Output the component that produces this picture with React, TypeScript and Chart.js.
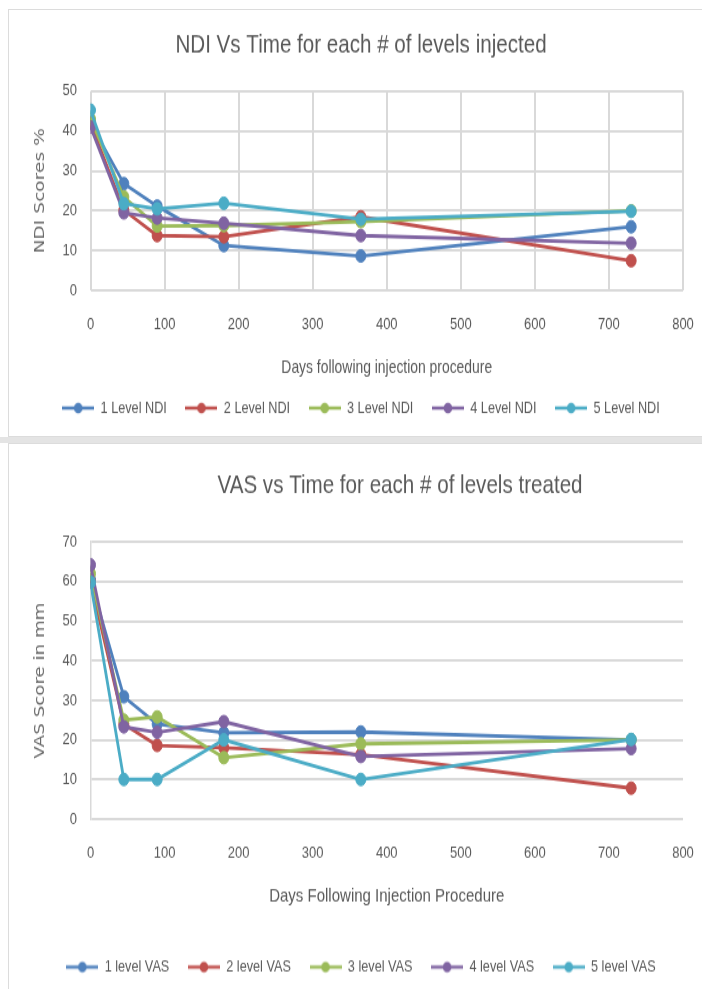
import React, { useEffect, useRef } from "react";
import { Chart, registerables } from "chart.js";

Chart.register(...registerables);

const days = [0, 45, 90, 180, 365, 730];

const ndiLabels = ["1 Level NDI", "2 Level NDI", "3 Level NDI", "4 Level NDI", "5 Level NDI"];
const ndi1 = [42, 26.8, 21.2, 11.3, 8.7, 16];
const ndi2 = [42, 20.2, 13.8, 13.5, 18.5, 7.5];
const ndi3 = [43, 23.5, 16.2, 16.3, 17.3, 20];
const ndi4 = [41, 19.5, 18.2, 16.9, 13.8, 11.9];
const ndi5 = [45.2, 21.8, 20.5, 21.9, 17.9, 19.9];

const vasLabels = ["1 level VAS", "2 level VAS", "3 level VAS", "4 level VAS", "5 level VAS"];
const vas1 = [60.5, 30.9, 24, 21.8, 22, 20];
const vas2 = [60, 24, 18.6, 18, 16.3, 7.8];
const vas3 = [62, 25, 25.8, 15.5, 19, 20];
const vas4 = [64.2, 23.3, 21.9, 24.6, 15.8, 17.8];
const vas5 = [59.8, 10, 10, 20, 10, 20.1];

const xTicks = [0, 100, 200, 300, 400, 500, 600, 700, 800];

const colors = ["#4F81BD", "#C0504D", "#9BBB59", "#8064A2", "#4BACC6"];

const SANS = "'Liberation Sans', Arial, sans-serif";
const WIDE = "'DejaVu Sans', Verdana, sans-serif";
const TXT = "#595959";

function legendImage(color: string): HTMLCanvasElement {
  const c = document.createElement("canvas");
  c.width = 32;
  c.height = 12;
  const g = c.getContext("2d")!;
  g.strokeStyle = color;
  g.lineWidth = 2.6;
  g.beginPath();
  g.moveTo(0, 6);
  g.lineTo(32, 6);
  g.stroke();
  g.fillStyle = color;
  g.beginPath();
  g.arc(16, 6, 4.3, 0, Math.PI * 2);
  g.fill();
  return c;
}

type Cfg = {
  title: string;
  xTitle: string;
  yTitle: string;
  yMax: number;
  labels: string[];
  series: number[][];
  cssHeight: number;
  height: number;
  titleCenter: number;
  plotTop: number;
  plotBottom: number;
  xLabelCenter: number;
  xTitleCenter: number;
  legendCenter: number;
  vGrid: boolean;
  titleShift: number;
  xTitleSize: number;
  yTitleSize: number;
};

const W = 722;
const PLOT_LEFT = 90.5;
const PLOT_RIGHT = 683;
const TITLE_SIZE = 20.6;
const TICK_SIZE = 13;
const LEG_SIZE = 12.7;
const LEG_PAD = 18.6;

function makeConfig(c: Cfg): any {
  const S = c.cssHeight / c.height;
  const v = (p: number) => p / S;
  const tlh = TITLE_SIZE * 1.2;
  const titlePadTop = v(c.titleCenter) - tlh / 2;
  const titlePadBottom = v(c.plotTop) - titlePadTop - tlh;
  const legendH = LEG_SIZE + LEG_PAD + 10;
  const padBottom = c.height - 10 - LEG_SIZE / 2 - v(c.legendCenter);
  const xAxisH = c.height - padBottom - legendH - v(c.plotBottom);
  const xAxisBottom = c.height - padBottom - legendH;
  const xtlh = c.xTitleSize * 1.2;
  const xTitlePadBottom = xAxisBottom - v(c.xTitleCenter) - xtlh / 2;
  const tickPadX = v(c.xLabelCenter) - v(c.plotBottom) - (TICK_SIZE * 1.2) / 2;
  const ytlh = c.yTitleSize * 1.2;
  const yTitlePadTop = 40.5 - ytlh / 2;

  const datasets = c.series.map((s, i) => ({
    label: c.labels[i],
    data: days.map((d, j) => ({ x: d, y: s[j] })),
    borderColor: colors[i],
    backgroundColor: colors[i],
    pointBackgroundColor: colors[i],
    pointBorderColor: colors[i],
    borderWidth: 2.8,
    pointRadius: 5,
    pointBorderWidth: 1,
    tension: 0,
    fill: false,
    order: c.series.length - 1 - i,
  }));

  const gridColor = "#d9d9d9";

  return {
    type: "line",
    data: { datasets },
    options: {
      animation: false,
      responsive: false,
      devicePixelRatio: 1,
      layout: { padding: { left: 0, right: 0, top: 0, bottom: padBottom } },
      plugins: {
        tooltip: { enabled: false },
        title: {
          display: true,
          text: c.title,
          color: TXT,
          font: { family: SANS, size: TITLE_SIZE, weight: "normal" },
          padding: { top: titlePadTop, bottom: titlePadBottom },
        },
        legend: {
          display: true,
          position: "bottom",
          labels: {
            usePointStyle: true,
            pointStyleWidth: 32,
            padding: LEG_PAD,
            color: TXT,
            font: { family: SANS, size: LEG_SIZE },
            generateLabels: (chart: any) =>
              chart.data.datasets.map((ds: any, i: number) => ({
                text: ds.label,
                pointStyle: legendImage(colors[i]),
                fillStyle: colors[i],
                strokeStyle: colors[i],
                fontColor: TXT,
                lineWidth: 0,
                hidden: false,
                datasetIndex: i,
              })),
          },
        },
      },
      scales: {
        x: {
          type: "linear",
          position: "bottom",
          min: 0,
          max: 800,
          afterBuildTicks: (s: any) => {
            s.ticks = xTicks.map((val) => ({ value: val }));
          },
          afterFit: (s: any) => {
            s.height = xAxisH;
          },
          grid: {
            display: c.vGrid,
            color: gridColor,
            lineWidth: 2,
            drawTicks: false,
          },
          border: { display: false },
          ticks: {
            color: TXT,
            padding: tickPadX,
            font: { family: SANS, size: TICK_SIZE },
            maxRotation: 0,
            autoSkip: false,
          },
          title: {
            display: true,
            text: c.xTitle,
            color: TXT,
            font: { family: SANS, size: c.xTitleSize },
            padding: { top: 0, bottom: xTitlePadBottom },
          },
        },
        y: {
          type: "linear",
          position: "left",
          min: 0,
          max: c.yMax,
          ticks: {
            stepSize: 10,
            color: TXT,
            padding: PLOT_LEFT - 77,
            font: { family: SANS, size: TICK_SIZE },
          },
          afterFit: (s: any) => {
            s.width = PLOT_LEFT;
          },
          grid: { color: gridColor, lineWidth: 2, drawTicks: false },
          border: c.vGrid
            ? { display: false }
            : { display: true, color: gridColor, width: 1.5 },
          title: {
            display: true,
            text: c.yTitle,
            color: "#6b6b6b",
            font: { family: WIDE, size: c.yTitleSize },
            padding: { top: yTitlePadTop, bottom: 0 },
          },
        },
        y2: {
          type: "linear",
          position: "right",
          display: true,
          grid: { display: false, drawTicks: false },
          border: { display: false },
          ticks: { display: false },
          afterFit: (s: any) => {
            s.width = W - PLOT_RIGHT;
          },
        },
      },
    },
    plugins: [
      {
        id: "titleShift",
        afterLayout: (chart: any) => {
          if (c.titleShift && chart.titleBlock) {
            chart.titleBlock.left += c.titleShift;
          }
        },
      },
    ],
  };
}

const ndiCfg: Cfg = {
  title: "NDI Vs Time for each # of levels injected",
  xTitle: "Days following injection procedure",
  yTitle: "NDI Scores %",
  yMax: 50,
  labels: ndiLabels,
  series: [ndi1, ndi2, ndi3, ndi4, ndi5],
  cssHeight: 438,
  height: 350,
  titleCenter: 45,
  plotTop: 91,
  plotBottom: 290.7,
  xLabelCenter: 325,
  xTitleCenter: 368,
  legendCenter: 408,
  vGrid: true,
  titleShift: 0,
  xTitleSize: 13.9,
  yTitleSize: 14.9,
};

const vasCfg: Cfg = {
  title: "VAS vs Time for each # of levels treated",
  xTitle: "Days Following Injection Procedure",
  yTitle: "VAS Score in mm",
  yMax: 70,
  labels: vasLabels,
  series: [vas1, vas2, vas3, vas4, vas5],
  cssHeight: 546,
  height: 437,
  titleCenter: 42.5,
  plotTop: 99,
  plotBottom: 376,
  xLabelCenter: 410,
  xTitleCenter: 453,
  legendCenter: 524,
  vGrid: false,
  titleShift: 78,
  xTitleSize: 15,
  yTitleSize: 14.6,
};

function ChartCanvas({ cfg, top }: { cfg: Cfg; top: number }) {
  const ref = useRef<HTMLCanvasElement | null>(null);
  useEffect(() => {
    if (!ref.current) return;
    const chart = new Chart(ref.current, makeConfig(cfg));
    return () => chart.destroy();
  }, [cfg]);
  return (
    <canvas
      ref={ref}
      width={W}
      height={cfg.height}
      style={{ position: "absolute", left: 0, top, width: W, height: cfg.cssHeight }}
    />
  );
}

export default function App() {
  return (
    <div
      style={{
        position: "absolute",
        left: 0,
        top: 0,
        width: 702,
        height: 989,
        overflow: "hidden",
        background: "#ffffff",
      }}
    >
      <div
        style={{
          position: "absolute",
          left: 8,
          top: 9,
          width: 700,
          height: 428,
          border: "1.5px solid #dcdcdc",
          boxSizing: "border-box",
        }}
      />
      <div
        style={{
          position: "absolute",
          left: 0,
          top: 437,
          width: 702,
          height: 6,
          background: "#e4e4e4",
        }}
      />
      <div
        style={{
          position: "absolute",
          left: 8,
          top: 443,
          width: 700,
          height: 560,
          border: "1.5px solid #dcdcdc",
          boxSizing: "border-box",
        }}
      />
      <ChartCanvas cfg={ndiCfg} top={0} />
      <ChartCanvas cfg={vasCfg} top={443} />
    </div>
  );
}
